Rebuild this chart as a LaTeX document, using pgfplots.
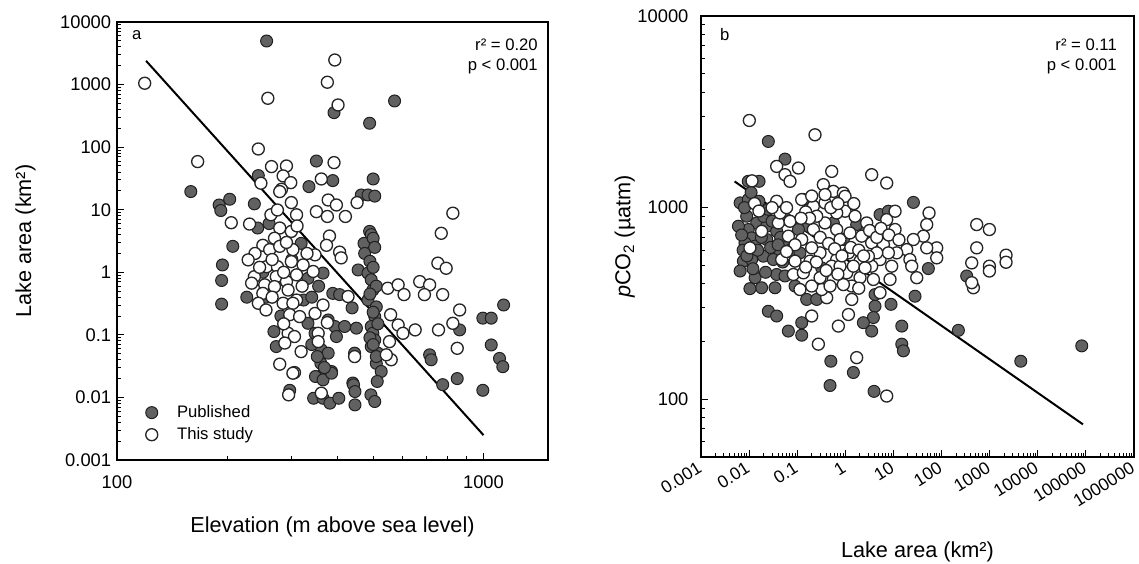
\documentclass[border=0pt]{standalone}
\usepackage{fontspec}
\setmainfont{Liberation Sans}
\usepackage{pgfplots}
\pgfplotsset{compat=1.18}
\begin{document}
\begin{tikzpicture}
\pgfplotsset{
  every axis/.append style={
    scale only axis,
    axis line style={line width=0.8pt},
    tick align=inside,
    xtick pos=bottom, ytick pos=left,
    major tick length=4.5pt, minor tick length=2.5pt,
    every tick/.style={black, line width=0.6pt},
    tick label style={font=\fontsize{11}{13}\selectfont},
    label style={font=\fontsize{13}{15}\selectfont},
    /pgf/number format/assume math mode=true,
  },
  pub/.style={only marks, mark=*, mark size=3.6pt, mark options={fill=black!62, draw=black!88, line width=0.6pt}},
  stu/.style={only marks, mark=*, mark size=3.6pt, mark options={fill=white, draw=black!85, line width=0.8pt}},
}
% ---------------- panel a ----------------
\begin{axis}[
  at={(70.2pt,61.8pt)}, anchor=south west,
  width=258.6pt, height=262.8pt,
  xmode=log, ymode=log,
  xmin=100, xmax=1500, ymin=0.001, ymax=10000,
  xtick={100,1000}, xticklabels={100,1000},
  minor xtick={200,300,400,500,600,700,800,900},
  ytick={0.001,0.01,0.1,1,10,100,1000,10000},
  yticklabels={0.001,0.01,0.1,1,10,100,1000,10000},
  minor ytick={0.002,0.003,0.004,0.005,0.006,0.007,0.008,0.009,0.02,0.03,0.04,0.05,0.06,0.07,0.08,0.09,0.2,0.3,0.4,0.5,0.6,0.7,0.8,0.9,2,3,4,5,6,7,8,9,20,30,40,50,60,70,80,90,200,300,400,500,600,700,800,900,2000,3000,4000,5000,6000,7000,8000,9000},
  xticklabel style={yshift=-6pt},
  xlabel={Elevation (m above sea level)},
  ylabel={Lake area (km²)},
  xlabel style={at={(axis description cs:0.5,-0.152)}, anchor=center},
  ylabel style={at={(axis description cs:-0.212,0.5)}, anchor=center},
  legend style={at={(axis description cs:0.052,0.137)}, anchor=north west, draw=none, fill=none,
    font=\fontsize{10}{12}\selectfont, row sep=0.5pt, inner sep=1pt},
  legend cell align=left,
  legend image code/.code={\draw[#1] plot coordinates {(0pt,0pt)}; \path (-6pt,0pt) (13pt,0pt);},
]
\addplot[pub] coordinates {
(159,19.5) (190,11.9) (203,14.7) (192,9.7) (237,12.4) (242,5.1) (207,2.6) (194,1.31) (193,0.74) (193,0.31) (226,0.40)
(256,4970) (572,547) (391,356) (489,241) (350,60) (334,23.4) (388,29.2) (500,31) (243,35.1) (464,17.2) (484,17.2) (505,16.5)
(489,4.5) (494,4.0) (472,2.9) (474,2.0) (455,1.09) (484,0.97) (494,0.76) (499,0.52) (484,0.36) (510,0.28) (505,0.196)
(494,0.136) (499,0.106) (505,0.083) (494,0.065) (515,0.051) (510,0.035) (526,0.026) (513,0.018)
(500,3.5) (505,2.5) (490,1.5) (500,1.2) (510,0.6) (490,0.45) (500,0.23) (515,0.15) (490,0.09) (500,0.07) (510,0.045)
(318,2.9) (332,0.80) (365,0.97) (388,0.46) (405,0.44) (438,0.27) (268,0.113) (272,0.065) (332,0.153) (347,0.106)
(377,0.173) (393,0.136) (418,0.136) (450,0.128) (397,0.094) (361,0.058) (377,0.051) (360,0.035) (385,0.026) (360,0.022)
(445,0.051) (440,0.017) (296,0.013) (323,0.36) (713,0.048) (720,0.040) (861,0.120) (848,0.020) (996,0.185) (1050,0.185)
(1135,0.30) (1050,0.069) (1106,0.042) (1129,0.031) (774,0.016) (996,0.013)
(348,0.0216) (365,0.0191) (385,0.0244) (344,0.0097) (365,0.0097) (381,0.0081) (403,0.0097) (442,0.0159) (446,0.0124)
(446,0.0076) (493,0.011) (505,0.0086)
(250,1.0) (260,6) (300,1.6) (280,0.2) (255,0.4) (340,0.07) (352,0.045) (368,0.03) (340,0.4) (355,0.6)
};
\addlegendentry{Published}
\addplot[stu] coordinates {
(119,1050) (393,2470) (375,1090) (258,604) (401,472) (243,93.5) (166,58.8) (264,48.9) (290,50) (284,34.7) (298,27.1)
(281,21.2) (361,31) (391,56.6) (247,26.5)
(278,19.5) (299,13.0) (377,14.3) (397,11.9) (452,13.0) (350,9.3) (375,7.8) (420,7.8) (263,8.3) (274,9.9) (309,8.3)
(230,5.9) (205,6.2) (278,5.1) (299,4.5) (380,3.8) (373,2.7) (405,2.1) (409,1.7) (347,1.9) (269,3.5) (250,2.7) (238,2.0)
(261,2.3) (278,2.6) (302,2.3) (228,1.58) (256,1.23) (274,1.23) (299,1.48) (322,1.31) (343,1.03) (237,0.85) (253,0.63)
(272,0.85) (290,0.71) (309,0.91) (233,0.67) (250,0.46) (269,0.59) (293,0.52) (309,0.36) (243,0.32) (284,0.32) (302,0.32)
(296,0.21) (315,0.196) (347,0.22) (365,0.30) (375,0.157) (354,0.106) (293,0.106) (305,0.094) (287,0.074) (318,0.054)
(278,0.034) (305,0.025) (427,0.41) (548,0.556) (585,0.63) (607,0.44) (670,0.71) (713,0.63) (690,0.44) (774,0.44)
(825,8.8) (767,4.2) (751,1.40) (791,1.16) (558,0.21) (585,0.144) (603,0.106) (651,0.120) (754,0.120) (825,0.153)
(861,0.25) (848,0.061) (554,0.078) (560,0.040) (543,0.048) (445,0.045) (354,0.078) (302,0.0244) (294,0.011) (361,0.0117)
(265,1.6) (285,1.0) (245,1.2) (320,0.6) (330,2.0) (290,3.0) (310,5.5) (265,0.4) (255,0.25) (285,0.15)
};
\addlegendentry{This study}
\addplot[black, line width=1.2pt, forget plot] coordinates {(120,2400) (1000,0.0025)};
\node[anchor=center, font=\fontsize{10}{12}\selectfont] at (axis description cs:0.046,0.97) {a};
\node[anchor=north east, align=right, font=\fontsize{10}{12}\selectfont, inner sep=0pt] at (axis description cs:0.977,0.963) {r² = 0.20\\p < 0.001};
\end{axis}
% ---------------- panel b ----------------
\begin{axis}[
  at={(420.6pt,63.6pt)}, anchor=south west,
  width=259.8pt, height=264.6pt,
  xmode=log, ymode=log,
  xmin=0.001, xmax=1000000, ymin=50, ymax=10000,
  xtick={0.001,0.01,0.1,1,10,100,1000,10000,100000,1000000},
  xticklabels={0.001,0.01,0.1,1,10,100,1000,10000,100000,1000000},
  minor xtick={0.002,0.003,0.004,0.005,0.006,0.007,0.008,0.009,0.02,0.03,0.04,0.05,0.06,0.07,0.08,0.09,0.2,0.3,0.4,0.5,0.6,0.7,0.8,0.9,2,3,4,5,6,7,8,9,20,30,40,50,60,70,80,90,200,300,400,500,600,700,800,900,2000,3000,4000,5000,6000,7000,8000,9000,20000,30000,40000,50000,60000,70000,80000,90000,200000,300000,400000,500000,600000,700000,800000,900000},
  ytick={100,1000,10000}, yticklabels={100,1000,10000},
  minor ytick={60,70,80,90,200,300,400,500,600,700,800,900,2000,3000,4000,5000,6000,7000,8000,9000},
  xticklabel style={rotate=32, anchor=north east, inner sep=0.5pt, xshift=-3pt, font=\fontsize{10.5}{12}\selectfont},
  yticklabel style={xshift=-4pt},
  xlabel={Lake area (km²)},
  ylabel={\textit{p}CO\textsubscript{2} (µatm)},
  xlabel style={at={(axis description cs:0.5,-0.215)}, anchor=center},
  ylabel style={at={(axis description cs:-0.176,0.5)}, anchor=center},
]
\addplot[pub] coordinates {
(0.0251,2215) (0.0557,1792) (0.0096,1372) (0.0161,1372)
(0.0065,1059) (0.0096,1102) (0.0089,902) (0.0144,832) (0.0096,769) (0.0113,695) (0.0082,655) (0.0133,630) (0.0232,800)
(0.0374,753) (0.0232,682) (0.0076,526) (0.0113,536) (0.0065,467) (0.0133,431) (0.0182,382) (0.0104,378) (0.0345,382)
(0.0374,448) (0.0557,440) (0.09,390) (0.157,332) (0.254,332) (0.0251,288) (0.0374,272) (0.0654,227) (0.124,251)
(0.124,216) (0.170,800) (0.106,769) (0.0557,682) (0.0708,593) (0.114,581) (0.0439,581) (0.323,485) (0.521,457)
(5.26,920) (7.85,958) (26.0,1065) (53.2,481) (28.1,345) (8.9,313) (4.14,352) (4.14,306) (3.83,267) (2.37,251) (3.53,227)
(14.9,241) (14.9,194) (16.1,179) (224,229) (333,440) (0.5,158) (1.47,138) (4430,158) (82000,190) (2.57,769) (1.72,816)
(0.91,682) (0.564,832) (0.0198,558) (0.0319,536) (0.0604,866) (0.481,118) (3.95,110)
(0.006,800) (0.007,720) (0.0075,600) (0.009,560) (0.012,480) (0.015,600) (0.018,700) (0.02,900) (0.028,620) (0.03,850)
(0.045,700) (0.05,520) (0.008,1000) (0.011,1200) (0.016,1080) (0.025,980) (0.022,460) (0.04,640)
};
\addplot[stu] coordinates {
(0.0101,2850) (0.234,2400) (0.0374,1641) (0.0557,1486) (0.0708,1372) (0.106,1610) (0.521,1546) (0.349,1318) (0.564,1216)
(3.53,1486) (7.24,1344) (0.91,1192) (0.134,1102)
(0.0374,1080) (0.124,1102) (0.216,1017) (0.378,1059) (0.378,1170) (0.986,1146) (0.986,958) (1.59,902) (2.78,832)
(7.24,866) (10.8,958) (10.8,769) (55,938) (49.2,816) (41.9,710) (79.4,617) (79.4,547) (49.2,617) (26.0,682) (18.9,604)
(22,536) (24.0,495) (30.5,431) (8.49,422) (9.2,495) (5.26,536) (5.26,360) (3.53,495) (2.02,526) (2.02,431) (1.36,390)
(1.36,332) (1.16,277) (0.717,241) (1.72,165) (0.275,194) (0.2,272) (0.41,339) (0.323,374) (0.2,390) (0.114,374)
(0.0832,448) (0.09,526) (0.0475,536) (0.0182,753) (0.0104,617) (0.0405,832) (0.0654,710) (0.124,682) (0.216,769)
(0.378,832) (0.662,769) (0.776,682) (1.25,738) (2.19,710) (3.53,655) (6.18,643) (11.7,581) (7.85,581) (4.49,581)
(3.01,558) (1.16,581) (0.662,536) (0.521,495) (0.298,581) (0.2,617) (0.185,526) (0.134,457) (0.298,431) (0.564,422)
(0.91,397) (0.481,390) (1.07,457) (0.776,495) (1.47,495) (2.57,485) (3.83,422) (538,816) (987,769) (538,617) (424,515)
(987,495) (987,467) (2190,565) (2190,519) (459,382) (424,406) (0.0439,938) (0.0708,849) (0.662,938) (0.254,902)
(7.24,104) (0.0115,1380) (0.0130,1050) (0.016,960)
(0.15,950) (0.18,880) (0.3,700) (0.45,650) (0.6,610) (0.85,560) (1.3,620) (1.9,600) (2.4,560) (3.2,760) (4.5,700)
(5.5,780) (8,720) (13,680) (0.25,520) (0.4,470) (0.7,450) (1.9,380) (0.09,640) (0.06,590) (0.15,490) (0.12,880)
(0.5,1000) (1.5,1050) (0.03,1000) (0.06,1000) (0.2,1150) (0.7,1050)
};
\addplot[black, line width=1.2pt] coordinates {(0.005,1370) (87000,74)};
\node[anchor=center, font=\fontsize{10}{12}\selectfont] at (axis description cs:0.055,0.957) {b};
\node[anchor=north east, align=right, font=\fontsize{10}{12}\selectfont, inner sep=0pt] at (axis description cs:0.961,0.95) {r² = 0.11\\p < 0.001};
\end{axis}
\pgfresetboundingbox
\useasboundingbox (0,0) rectangle (683.4pt,337.8pt);
\end{tikzpicture}
\end{document}
